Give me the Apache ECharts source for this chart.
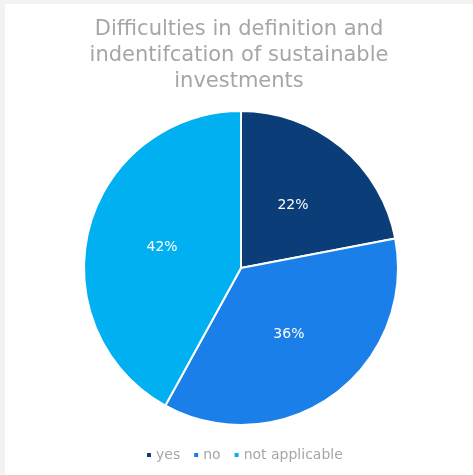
<!DOCTYPE html>
<html>
<head>
<meta charset="utf-8">
<script src="https://cdn.jsdelivr.net/npm/echarts@6/dist/echarts.min.js"></script>
<style>
  html, body { margin: 0; padding: 0; background: #f2f2f2; }
  #chart { position: absolute; left: 5px; top: 4px; width: 468px; height: 471px; background: #ffffff; }
</style>
</head>
<body>
<div id="chart"></div>
<script>
// ── Data ──────────────────────────────────────────────
const categories = ['yes', 'no', 'not applicable'];
const shares = [22, 36, 42];
const colors = ['#0b3d78', '#1a7fe8', '#00b0f0'];

const fontFamily = '"DejaVu Sans", Verdana, sans-serif';

const chart = echarts.init(document.getElementById('chart'), null, { renderer: 'canvas' });
chart.setOption({
  animation: false,
  color: colors,
  title: {
    text: 'Difficulties in definition and\nindentifcation of sustainable\ninvestments',
    left: 'center',
    top: 8,
    textStyle: { fontFamily, fontSize: 21, fontWeight: 'normal', color: '#a6a6a6', lineHeight: 26 },
  },
  legend: {
    bottom: 8,
    left: 135,
    icon: 'rect',
    itemWidth: 6,
    itemHeight: 6,
    itemGap: 12,
    textStyle: { fontFamily, fontSize: 14, color: '#a6a6a6', padding: [0, 0, 0, -1] },
    data: categories,
  },
  series: [{
    type: 'pie',
    center: [236, 264],
    radius: 157,
    startAngle: 90,
    clockwise: true,
    data: categories.map((c, i) => ({ name: c, value: shares[i] })),
    itemStyle: { borderColor: '#ffffff', borderWidth: 2 },
    label: {
      show: true, position: 'inside',
      formatter: (p) => p.value + '%',
      fontFamily, fontSize: 14, color: '#ffffff',
    },
    labelLine: { show: false },
    emphasis: { disabled: true },
  }],
});
</script>
</body>
</html>
